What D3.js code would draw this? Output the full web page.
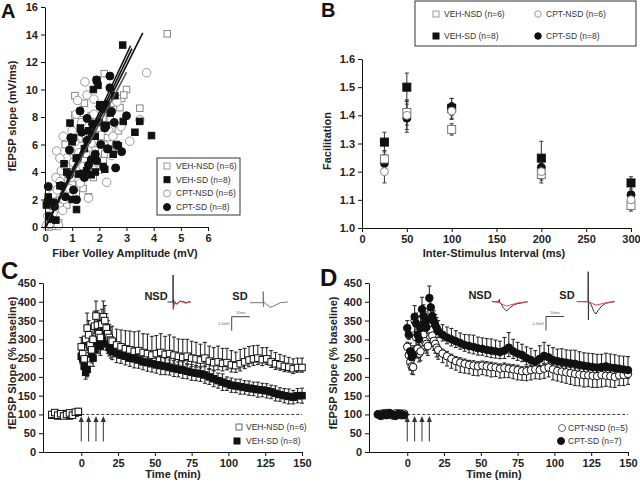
<!DOCTYPE html>
<html><head><meta charset="utf-8">
<script src="https://cdn.jsdelivr.net/npm/d3@7"></script>
<style>body{margin:0;background:#fff}svg{display:block}</style>
</head><body>
<svg id="fig" width="640" height="483"></svg>
<script>
// ---------------- DATA ----------------
// Panel A : fEPSP slope (mV/ms) vs fiber volley amplitude (mV), [x, y]
const aVehNsd = [[4.5,14.05],[2.18,11.15],[3.0,10.0],[1.1,9.55],[2.82,9.35],[2.76,8.68],[3.49,8.64],[2.7,7.0],[1.1,8.15],[1.53,5.29],[0.74,6.0],[1.6,2.2],[1.78,3.6],[1.35,7.8],[1.95,7.2],[2.3,6.5],[0.9,4.5],[0.6,3.2],[0.35,1.5],[0.2,0.6],[0.1,0.2],[0.45,2.4],[1.2,4.8],[1.85,5.6],[2.05,6.1],[1.0,3.1],[1.4,2.8],[0.8,1.6],[0.3,0.05],[0.5,0.3],[2.45,9.0],[1.7,8.1],[2.6,5.9],[1.25,6.4],[0.95,5.5],[1.55,4.3],[2.15,4.9],[0.65,2.0],[0.15,0.0],[1.15,2.4],[2.9,9.6],[1.65,6.8],[2.4,7.8],[0.85,3.8],[1.45,9.0],[2.2,5.3]];
const aVehSd = [[2.86,13.23],[0.92,7.56],[1.9,10.67],[1.78,10.0],[2.57,9.55],[2.02,8.9],[3.49,7.68],[3.31,6.89],[3.92,6.65],[2.63,6.0],[2.51,5.29],[2.14,4.38],[1.53,4.09],[1.23,3.85],[1.16,1.27],[0.12,2.18],[2.88,7.68],[2.33,5.65],[1.95,10.3],[1.6,7.0],[2.25,7.4],[1.45,5.7],[1.05,6.5],[0.7,4.6],[0.55,3.0],[0.3,1.8],[0.15,0.8],[1.85,4.0],[2.7,5.9],[1.0,2.0],[0.4,0.5],[1.7,3.8],[2.4,8.3],[1.3,7.2],[0.8,4.0],[2.0,7.6],[1.15,5.0],[0.05,1.6],[1.4,3.9],[2.2,4.2],[1.85,6.6],[1.0,6.2]];
const aCptNsd = [[1.47,10.55],[3.74,11.22],[3.49,7.8],[3.12,6.24],[2.27,3.25],[0.67,6.6],[0.43,5.53],[1.2,9.2],[1.0,7.0],[0.8,5.0],[0.6,4.1],[0.4,3.6],[0.3,2.4],[0.2,1.6],[0.1,0.8],[0.05,0.1],[0.25,0.3],[0.5,0.1],[0.9,2.8],[1.1,6.2],[1.35,7.6],[1.55,9.6],[1.8,8.2],[2.1,7.9],[2.35,7.0],[2.5,6.6],[2.2,5.9],[1.9,4.7],[1.6,2.1],[1.4,4.4],[0.7,2.0],[0.35,1.2],[0.55,3.3],[2.8,7.3],[2.05,4.2],[1.25,5.4],[0.15,0.2],[0.75,4.4],[1.7,6.1],[0.95,3.6],[2.65,9.1],[0.45,2.7],[1.05,4.7],[0.65,1.2],[1.3,3.2],[2.45,5.2],[1.8,9.3],[0.55,5.0],[1.15,8.2],[0.3,1.0]];
const aCptSd = [[2.39,10.98],[2.39,10.12],[1.29,8.44],[3.0,8.09],[2.82,5.48],[2.02,8.76],[0.12,1.94],[0.12,2.94],[1.16,1.99],[1.9,4.81],[2.15,8.6],[1.9,10.7],[2.55,7.6],[2.2,7.2],[1.75,7.5],[1.55,6.3],[1.2,5.0],[0.95,6.5],[0.9,3.8],[0.6,3.0],[0.35,1.5],[0.2,0.6],[1.6,4.5],[2.3,5.7],[2.6,4.3],[1.45,3.6],[1.05,2.7],[2.05,6.0],[1.35,6.9],[0.75,2.2],[2.45,8.4],[1.85,5.3],[1.7,4.9],[2.25,8.9],[0.9,5.6],[1.55,7.9]];
// regression lines (VEH-NSD, VEH-SD, CPT-NSD, CPT-SD)
const regSlope = [3.95, 4.2, 3.75, 4.1];
const regIntercept = [-0.1, -0.05, 0.0, -0.15];
const regXmax = [3.6, 3.15, 3.0, 3.2];
const aXTicks = [0,1,2,3,4,5,6];
const aYTicks = [0,2,4,6,8,10,12,14,16];

// Panel B : paired-pulse facilitation
const isiMs = [25,50,100,200,300];
const bVehNsd = [1.245,1.41,1.35,1.19,1.08];
const bVehNsdErr = [0.03,0.045,0.02,0.03,0.02];
const bVehSd = [1.305,1.50,1.425,1.248,1.16];
const bVehSdErr = [0.035,0.05,0.035,0.06,0.022];
const bCptNsd = [1.20,1.40,1.415,1.20,1.10];
const bCptNsdErr = [0.04,0.05,0.03,0.03,0.02];
const bCptSd = [1.23,1.39,1.43,1.215,1.118];
const bCptSdErr = [0.03,0.05,0.03,0.03,0.03];
const bXTicks = [0,50,100,150,200,250,300];
const bYTicks = [1.0,1.1,1.2,1.3,1.4,1.5,1.6];

// Panels C & D : LTP time course (% baseline)
const timeMin = [-20,-18,-16,-14,-12,-10,-8,-6,-4,-2,
  0,1,2,3,4,5,6,7,8,9,10,11,12,13,14,15,16,17,18,19,20,
  21,24,27,30,33,36,39,42,45,48,51,54,57,60,63,66,69,72,75,78,
  81,84,87,90,93,96,99,102,105,108,111,114,117,120,123,126,129,132,135,138,
  141,144,147,150];
const vehNsdC = [100,105,98,102,96,100,104,98,106,108,
  280,262,248,300,330,312,285,272,300,335,362,338,315,305,340,360,350,330,315,305,298,
  295,285,280,275,272,268,270,265,262,258,262,265,260,262,258,255,252,255,250,248,
  245,250,242,238,240,236,238,232,230,235,240,245,248,250,246,248,240,235,232,228,
  226,222,225,225];
const vehNsdCErr = [8,6,7,8,6,7,8,6,7,8,
  25,28,30,35,40,38,35,30,35,40,40,38,35,30,40,42,40,38,35,35,35,
  40,42,45,48,50,52,52,50,52,50,48,50,48,50,48,46,48,45,45,44,
  42,42,40,40,42,40,38,38,36,38,36,36,35,34,32,30,30,30,28,28,
  26,26,25,25];
const vehSdC = [98,100,96,100,98,102,96,100,104,106,
  255,248,228,212,220,295,280,262,250,272,300,296,288,282,300,318,310,296,288,278,272,
  268,262,258,255,250,248,245,240,238,235,232,230,228,225,222,220,218,215,212,210,
  208,205,200,195,190,186,182,178,176,174,172,170,168,166,165,163,160,156,153,150,
  148,146,150,150];
const vehSdCErr = [6,5,6,7,5,6,6,5,6,7,
  20,22,20,18,20,30,28,25,22,25,30,28,25,25,28,30,28,25,25,22,22,
  22,24,22,23,22,24,22,21,23,22,22,24,22,20,21,20,22,20,21,20,
  20,22,20,21,20,22,18,19,18,20,18,19,18,20,18,19,18,20,18,19,
  20,18,19,20];
const cptNsdD = [100,102,98,104,100,97,103,100,98,102,
  280,258,240,228,226,350,305,275,262,268,330,312,295,288,282,340,325,310,296,288,278,
  272,262,255,248,242,238,235,232,230,228,230,228,226,225,222,224,222,220,218,215,
  215,218,220,218,222,225,220,216,214,212,210,208,206,205,204,203,202,205,203,202,
  200,204,205,208];
const cptNsdDErr = [8,7,8,9,7,8,8,7,9,8,
  25,25,22,20,20,30,28,25,22,25,30,28,25,25,25,30,28,25,25,25,25,
  25,24,26,25,24,26,25,24,26,25,24,25,26,24,25,26,24,25,26,24,
  25,26,25,24,26,25,28,27,28,29,30,31,30,32,30,31,30,32,28,29,
  28,27,28,28];
const cptSdD = [100,96,102,98,104,100,96,102,100,98,
  330,312,268,252,258,360,342,312,300,330,380,362,345,332,352,410,385,362,348,338,330,
  322,312,305,300,295,290,285,282,280,276,275,272,270,268,266,270,278,268,262,258,
  250,245,240,248,256,252,245,242,240,238,236,235,232,230,228,226,225,226,228,225,
  224,222,220,218];
const cptSdDErr = [10,9,10,12,9,10,11,10,12,10,
  20,20,22,25,25,30,28,25,25,30,32,30,28,28,30,32,30,28,28,28,28,
  28,27,28,29,28,27,28,30,31,30,29,30,31,30,29,35,40,32,30,29,
  30,31,30,35,36,32,33,32,35,34,35,36,35,34,35,36,35,34,35,36,
  35,34,35,36];
const tXTicks = [0,25,50,75,100,125,150];
const tYTicks = [0,50,100,150,200,250,300,350,400,450];
const tetanusTimes = [0,5,10,15];
const baselinePct = 100;

// Inset traces [ms, mV]
const cNsdBlack = [[0,0],[3.0,0],[3.1,1.93],[3.2,-0.5],[3.4,0.1],[4,0.05],[5,-0.12],[6,-0.05],[7,0.08],[8,0.0],[9,0.05],[10,-0.05],[11,-0.02],[12,0.02],[13,0.0]];
const cNsdRed = [[3.2,-0.55],[3.5,-0.3],[4,-0.05],[5,-0.15],[6,-0.1],[7,0.06],[8,0.03],[9,-0.02],[10,-0.08],[11,-0.06],[12,0.0],[12.5,0.02]];
const cSdGrey = [[0,0],[7.3,0],[7.4,0.79],[7.5,-0.3],[7.7,0.05],[8.5,-0.05],[10,-0.2],[11,-0.32],[12.5,-0.28],[15,-0.12],[17,0.0],[19,0.03],[21,0.05]];
const dNsdBlack = [[0,0],[4.1,0],[4.2,0.17],[4.3,-0.07],[5,-0.1],[6.5,-0.45],[8.3,-0.66],[10,-0.45],[12,-0.25],[14,-0.15],[17,-0.08],[20,0.0]];
const dNsdRed = [[0,0.02],[4.3,-0.05],[6,-0.2],[8.3,-0.31],[10,-0.25],[12,-0.18],[14,-0.1],[17,-0.05],[20,0.0]];
const dSdBlack = [[0,0],[6.3,0],[6.4,2.14],[6.5,-1.3],[6.7,0.0],[8,-0.2],[9.5,-0.7],[10.7,-0.88],[12,-0.6],[14,-0.3],[16,-0.12],[19,-0.03],[21.3,0]];
const dSdRed = [[0,0.02],[6.7,0.0],[8,-0.1],[10.7,-0.24],[13,-0.18],[16,-0.08],[19,-0.02],[21.3,0.02]];

// ---------------- DRAWING ----------------
const FONT = '"Liberation Sans", Arial, Helvetica, sans-serif';
const svg = d3.select("#fig");

function styleAxis(g){
  g.select(".domain").attr("stroke","#111").attr("stroke-width",1);
  g.selectAll(".tick line").attr("stroke","#111");
  g.selectAll(".tick text").attr("font-family",FONT).attr("font-size",11)
    .attr("font-weight","bold").attr("fill","#222");
}
function txt(x,y,s,opt){
  opt = opt||{};
  const t = svg.append("text").attr("x",x).attr("y",y).text(s)
    .attr("font-family",FONT).attr("font-size",opt.size||11)
    .attr("font-weight",opt.weight||"bold").attr("fill",opt.fill||"#222")
    .attr("text-anchor",opt.anchor||"middle");
  if(opt.rotate) t.attr("transform",`rotate(-90,${x},${y})`);
  return t;
}
function drawMark(g, cx, cy, shape, filled, size, stroke){
  if(shape==="square"){
    g.append("rect").attr("x",cx-size/2).attr("y",cy-size/2).attr("width",size).attr("height",size)
      .attr("fill",filled?"#111":"#fff").attr("stroke",filled?"#111":stroke).attr("stroke-width",1);
  } else {
    g.append("circle").attr("cx",cx).attr("cy",cy).attr("r",size/2)
      .attr("fill",filled?"#111":"#fff").attr("stroke",filled?"#111":stroke).attr("stroke-width",1);
  }
}
function xAxis(scale, y, ticks, fmt){
  svg.append("g").attr("transform",`translate(0,${y})`)
    .call(d3.axisBottom(scale).tickValues(ticks).tickSize(4).tickSizeOuter(0).tickPadding(3).tickFormat(fmt))
    .call(styleAxis);
}
function yAxis(scale, x, ticks, fmt){
  svg.append("g").attr("transform",`translate(${x},0)`)
    .call(d3.axisLeft(scale).tickValues(ticks).tickSize(4).tickSizeOuter(0).tickPadding(3).tickFormat(fmt))
    .call(styleAxis);
}

// ===== Panel A =====
const xA = d3.scaleLinear().domain([0,6]).range([45,208]);
const yA = d3.scaleLinear().domain([0,16]).range([227,7]);
const gA = svg.append("g");
const seriesA = [
  {d:aVehNsd, shape:"square", filled:false, size:6.5, stroke:"#888"},
  {d:aCptNsd, shape:"circle", filled:false, size:8.5, stroke:"#999"},
  {d:aVehSd, shape:"square", filled:true, size:6.5},
  {d:aCptSd, shape:"circle", filled:true, size:8}
];
seriesA.forEach(s => s.d.forEach(p => drawMark(gA, xA(p[0]), yA(p[1]), s.shape, s.filled, s.size, s.stroke)));
const regLine = d3.line().x(d=>xA(d[0])).y(d=>yA(d[1]));
regSlope.forEach((m,i)=>{
  const x0 = Math.max(0, -regIntercept[i]/m);
  gA.append("path").attr("d", regLine([[x0, regIntercept[i]+m*x0],[regXmax[i], regIntercept[i]+m*regXmax[i]]]))
    .attr("stroke", i===2 ? "#555" : "#111").attr("stroke-width",1.6).attr("fill","none");
});
xAxis(xA, 227, aXTicks, d3.format("d"));
yAxis(yA, 45, aYTicks, d3.format("d"));
txt(125,257,"Fiber Volley Amplitude (mV)");
txt(16,116,"fEPSP slope (mV/ms)",{rotate:true});
txt(1,18,"A",{size:20,anchor:"start",fill:"#111"});
// legend A
svg.append("rect").attr("x",157).attr("y",158).attr("width",83).attr("height",57)
  .attr("fill","#fff").attr("stroke","#333").attr("stroke-width",1);
const legA = [["VEH-NSD (n=6)","square",false],["VEH-SD (n=8)","square",true],["CPT-NSD (n=6)","circle",false],["CPT-SD (n=8)","circle",true]];
legA.forEach((l,i)=>{
  const y = 166 + i*13.7;
  drawMark(svg, 167, y, l[1], l[2], l[1]==="square"?6:7, "#999");
  txt(176, y+3, l[0], {size:8.5, weight:"normal", anchor:"start", fill:"#333"});
});

// ===== Panel B =====
const xB = d3.scaleLinear().domain([0,300]).range([362,631]);
const yB = d3.scaleLinear().domain([1.0,1.6]).range([228,59]);
const gB = svg.append("g");
const seriesB = [
  {v:bCptSd, e:bCptSdErr, shape:"circle", filled:true, size:8},
  {v:bVehSd, e:bVehSdErr, shape:"square", filled:true, size:8},
  {v:bVehNsd, e:bVehNsdErr, shape:"square", filled:false, size:8, stroke:"#777"},
  {v:bCptNsd, e:bCptNsdErr, shape:"circle", filled:false, size:8, stroke:"#888"}
];
seriesB.forEach(s => s.v.forEach((v,i)=>{
  const x = xB(isiMs[i]);
  gB.append("line").attr("x1",x).attr("x2",x).attr("y1",yB(v-s.e[i])).attr("y2",yB(v+s.e[i])).attr("stroke","#333");
  [v-s.e[i], v+s.e[i]].forEach(c=>gB.append("line").attr("x1",x-2).attr("x2",x+2).attr("y1",yB(c)).attr("y2",yB(c)).attr("stroke","#333"));
}));
seriesB.forEach(s => s.v.forEach((v,i)=> drawMark(gB, xB(isiMs[i]), yB(v), s.shape, s.filled, s.size, s.stroke)));
xAxis(xB, 228, bXTicks, d3.format("d"));
yAxis(yB, 362, bYTicks, d3.format(".1f"));
txt(494,257,"Inter-Stimulus Interval (ms)");
txt(331,141,"Facilitation",{rotate:true});
txt(321,17,"B",{size:20,anchor:"start",fill:"#111"});
svg.append("rect").attr("x",415).attr("y",1).attr("width",221).attr("height",45)
  .attr("fill","#fff").attr("stroke","#333").attr("stroke-width",1);
const legB = [["VEH-NSD (n=6)","square",false,436,14],["CPT-NSD (n=6)","circle",false,538,14],
              ["VEH-SD (n=8)","square",true,436,36],["CPT-SD (n=8)","circle",true,538,36]];
legB.forEach(l=>{
  drawMark(svg, l[3], l[4], l[1], l[2], l[1]==="square"?6:6.5, "#999");
  txt(l[3]+8, l[4]+3, l[0], {size:8.5, weight:"normal", anchor:"start", fill:"#333"});
});

// ===== Panels C & D =====
function timePanel(cfg){
  const x = d3.scaleLinear().domain([-26,150]).range([cfg.x0, cfg.x1]);
  const y = d3.scaleLinear().domain([0,450]).range([452,283]);
  const g = svg.append("g");
  g.append("line").attr("x1",x(0)).attr("x2",x(150)).attr("y1",y(baselinePct)).attr("y2",y(baselinePct))
    .attr("stroke","#333").attr("stroke-dasharray","3,2");
  // error bars (mean ± SEM)
  cfg.series.forEach(s=>{
    s.v.forEach((v,i)=>{
      const xx = x(timeMin[i]);
      const lo = v - s.e[i]*s.down, hi = v + s.e[i]*s.up;
      g.append("line").attr("x1",xx).attr("x2",xx).attr("y1",y(lo)).attr("y2",y(hi)).attr("stroke","#2a2a2a").attr("stroke-width",1.1);
      [lo,hi].forEach(c=>g.append("line").attr("x1",xx-2).attr("x2",xx+2).attr("y1",y(c)).attr("y2",y(c)).attr("stroke","#2a2a2a").attr("stroke-width",1.1));
    });
  });
  cfg.series.forEach(s=>{
    s.v.forEach((v,i)=> drawMark(g, x(timeMin[i]), y(v), s.shape, s.filled, s.size, "#111"));
  });
  tetanusTimes.forEach(t=>{
    const xx = x(t);
    g.append("line").attr("x1",xx).attr("x2",xx).attr("y1",y(28)).attr("y2",y(88)).attr("stroke","#333").attr("stroke-width",1);
    g.append("path").attr("d",`M${xx},${y(96)} L${xx-2.6},${y(80)} L${xx+2.6},${y(80)} Z`).attr("fill","#333");
  });
  xAxis(x, 452, tXTicks, d3.format("d"));
  yAxis(y, cfg.x0, tYTicks, d3.format("d"));
  return {x,y};
}
function drawTrace(ox, oy, pts, color, w){
  const sx = d3.scaleLinear().domain([0,10]).range([ox, ox+18]);
  const sy = d3.scaleLinear().domain([0,1]).range([oy, oy-14]);
  svg.append("path").attr("d", d3.line().x(d=>sx(d[0])).y(d=>sy(d[1]))(pts))
    .attr("fill","none").attr("stroke",color).attr("stroke-width",w||1);
}
function scaleBar(x, y){
  svg.append("path").attr("d",`M${x},${y+14} L${x},${y} L${x+18},${y}`).attr("fill","none").attr("stroke","#444").attr("stroke-width",1);
  txt(x+9, y-3, "10ms", {size:4, weight:"normal", fill:"#666"});
  txt(x-2, y+8, "1.0mV", {size:4, weight:"normal", anchor:"end", fill:"#666"});
}

// Panel C
timePanel({x0:43, x1:302, series:[
  {v:vehSdC, e:vehSdCErr, up:1, down:1, shape:"square", filled:true, size:6.5},
  {v:vehNsdC, e:vehNsdCErr, up:1, down:0.5, shape:"square", filled:false, size:6.5}
]});
txt(173,478,"Time (min)");
txt(16,363,"fEPSP Slope (% baseline)",{rotate:true});
txt(1,279,"C",{size:24,anchor:"start",fill:"#111"});
txt(156,300,"NSD");
txt(240,300,"SD");
drawTrace(167.5,302,cNsdBlack,"#333",1);
drawTrace(167.5,302,cNsdRed,"#d33",1);
drawTrace(250,302.7,cSdGrey,"#777",1);
scaleBar(231.7,316.7);
drawMark(svg, 239, 427, "square", false, 6, "#666");
txt(246, 430, "VEH-NSD (n=6)", {size:8.5, weight:"normal", anchor:"start", fill:"#333"});
drawMark(svg, 237, 441, "square", true, 6);
txt(246, 444, "VEH-SD (n=8)", {size:8.5, weight:"normal", anchor:"start", fill:"#333"});

// Panel D
timePanel({x0:369, x1:628, series:[
  {v:cptNsdD, e:cptNsdDErr, up:0.5, down:1, shape:"circle", filled:false, size:7.5},
  {v:cptSdD, e:cptSdDErr, up:1, down:0.6, shape:"circle", filled:true, size:7.5}
]});
txt(494,478,"Time (min)");
txt(337,363,"fEPSP Slope (% baseline)",{rotate:true});
txt(320,286,"D",{size:24,anchor:"start",fill:"#111"});
txt(480,299,"NSD");
txt(567,299,"SD");
drawTrace(491.7,301.7,dNsdBlack,"#333",1);
drawTrace(491.7,301.7,dNsdRed,"#e44",1);
drawTrace(576.7,301.7,dSdBlack,"#333",1);
drawTrace(576.7,301.7,dSdRed,"#e44",1);
scaleBar(546,316.5);
drawMark(svg, 562, 428, "circle", false, 7, "#666");
txt(568, 431, "CPT-NSD (n=5)", {size:8.5, weight:"normal", anchor:"start", fill:"#333"});
drawMark(svg, 561, 441, "circle", true, 7);
txt(568, 444, "CPT-SD (n=7)", {size:8.5, weight:"normal", anchor:"start", fill:"#333"});
</script>
</body></html>
